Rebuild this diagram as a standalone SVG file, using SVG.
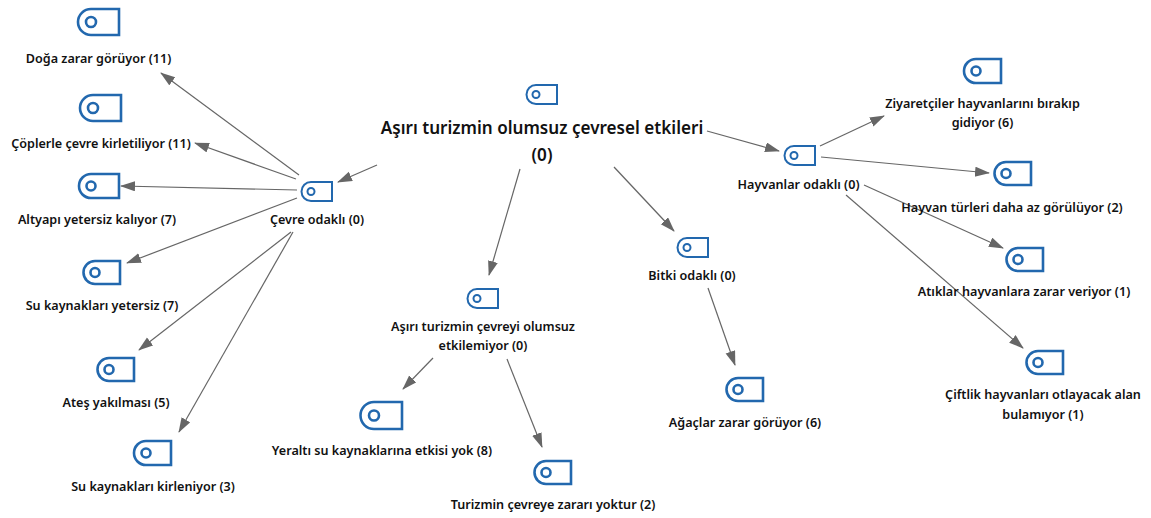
<svg xmlns="http://www.w3.org/2000/svg" width="1151" height="518" viewBox="0 0 1151 518">
<style>
text{font-family:"Noto Sans","Open Sans","Liberation Sans",sans-serif;font-weight:600;font-size:12.6px;fill:#111;text-anchor:middle}
.big{font-size:17.1px}
.c line{stroke:#666;stroke-width:1.2;marker-end:url(#a)}
.i path{fill:#fff;stroke:#2268ae;stroke-width:2.6}
.i circle{fill:#fff;stroke:#2268ae;stroke-width:2.6}
.s path,.s circle{stroke-width:2}
</style>
<defs>
<marker id="a" markerUnits="userSpaceOnUse" markerWidth="16" markerHeight="12" refX="14" refY="5" orient="auto"><path d="M0 0L15 5L0 10z" fill="#666"/></marker>
</defs>
<rect width="1151" height="518" fill="#fff"/>
<g id="connectors" class="c">
<line x1="377" y1="165" x2="338" y2="182"/>
<line x1="299" y1="175" x2="161" y2="73"/>
<line x1="296" y1="179" x2="195" y2="143"/>
<line x1="297" y1="190" x2="121" y2="186"/>
<line x1="297" y1="198" x2="127" y2="263"/>
<line x1="291" y1="232" x2="139" y2="350"/>
<line x1="293" y1="232" x2="179" y2="432"/>
<line x1="520" y1="169" x2="489" y2="275"/>
<line x1="614" y1="167" x2="674" y2="231"/>
<line x1="707" y1="131" x2="779" y2="151"/>
<line x1="820" y1="146" x2="884" y2="116"/>
<line x1="821" y1="157" x2="989" y2="173"/>
<line x1="864" y1="185" x2="1003" y2="248"/>
<line x1="846" y1="195" x2="1023" y2="348"/>
<line x1="433" y1="358" x2="403" y2="389"/>
<line x1="507" y1="359" x2="542" y2="447"/>
<line x1="708" y1="288" x2="735" y2="365"/>
</g>
<g id="n1"><g class="i" transform="translate(78 8)"><path d="M13 1H41V27H13A13 13 0 0 1 13 1Z"/><circle cx="13" cy="14" r="5"/></g><text x="98.500" y="63">Doğa zarar görüyor (11)</text></g>
<g id="n2"><g class="i" transform="translate(80 94)"><path d="M13 1H41V27H13A13 13 0 0 1 13 1Z"/><circle cx="13" cy="14" r="5"/></g><text x="101" y="148">Çöplerle çevre kirletiliyor (11)</text></g>
<g id="n3"><g class="i" transform="translate(79 173)"><path d="M12 1H40V25H12A12 12 0 0 1 12 1Z"/><circle cx="12" cy="13" r="4.5"/></g><text x="97" y="224">Altyapı yetersiz kalıyor (7)</text></g>
<g id="n4"><g class="i" transform="translate(83 260)"><path d="M12 1H37V24H12A11.5 11.5 0 0 1 12 1Z"/><circle cx="12" cy="12.5" r="4.5"/></g><text x="102" y="310">Su kaynakları yetersiz (7)</text></g>
<g id="n5"><g class="i" transform="translate(97 357)"><path d="M12 1H37V24H12A11.5 11.5 0 0 1 12 1Z"/><circle cx="12" cy="12.5" r="4.5"/></g><text x="116" y="407">Ateş yakılması (5)</text></g>
<g id="n6"><g class="i" transform="translate(134 440)"><path d="M12 1H37V25H12A12 12 0 0 1 12 1Z"/><circle cx="12" cy="13" r="4.5"/></g><text x="153" y="491">Su kaynakları kirleniyor (3)</text></g>
<g id="n7"><g class="i s" transform="translate(301 181)"><path d="M10 1H31V20H10A9.500 9.500 0 0 1 10 1Z"/><circle cx="10" cy="10.500" r="3.500"/></g><text x="317" y="224">Çevre odaklı (0)</text></g>
<g id="n8"><g class="i s" transform="translate(526 84)"><path d="M10 1H31V20H10A9.500 9.500 0 0 1 10 1Z"/><circle cx="10" cy="10.500" r="3.500"/></g><text class="big" x="542" y="134">Aşırı turizmin olumsuz çevresel etkileri</text><text class="big" x="542" y="161">(0)</text></g>
<g id="n9"><g class="i s" transform="translate(467 288)"><path d="M10 1H31V20H10A9.500 9.500 0 0 1 10 1Z"/><circle cx="10" cy="10.500" r="3.500"/></g><text x="483" y="331">Aşırı turizmin çevreyi olumsuz</text><text x="483" y="350">etkilemiyor (0)</text></g>
<g id="n10"><g class="i" transform="translate(360 401)"><path d="M14 1H42V28H14A13.500 13.500 0 0 1 14 1Z"/><circle cx="14" cy="14.500" r="5"/></g><text x="382" y="455">Yeraltı su kaynaklarına etkisi yok (8)</text></g>
<g id="n11"><g class="i" transform="translate(534 460)"><path d="M12 1H37V24H12A11.5 11.5 0 0 1 12 1Z"/><circle cx="12" cy="12.5" r="4.5"/></g><text x="553" y="509">Turizmin çevreye zararı yoktur (2)</text></g>
<g id="n12"><g class="i s" transform="translate(677 237)"><path d="M10 1H31V20H10A9.500 9.500 0 0 1 10 1Z"/><circle cx="10" cy="10.500" r="3.500"/></g><text x="692" y="280">Bitki odaklı (0)</text></g>
<g id="n13"><g class="i" transform="translate(726 377)"><path d="M12 1H37V24H12A11.5 11.5 0 0 1 12 1Z"/><circle cx="12" cy="12.5" r="4.5"/></g><text x="745" y="427">Ağaçlar zarar görüyor (6)</text></g>
<g id="n14"><g class="i s" transform="translate(784 145)"><path d="M10 1H31V20H10A9.500 9.500 0 0 1 10 1Z"/><circle cx="10" cy="10.500" r="3.500"/></g><text x="798.500" y="189">Hayvanlar odaklı (0)</text></g>
<g id="n15"><g class="i" transform="translate(964 58)"><path d="M12 1H37V25H12A12 12 0 0 1 12 1Z"/><circle cx="12" cy="13" r="4.500"/></g><text x="982.500" y="108">Ziyaretçiler hayvanlarını bırakıp</text><text x="982.500" y="127">gidiyor (6)</text></g>
<g id="n16"><g class="i" transform="translate(994 161)"><path d="M12 1H37V24H12A11.5 11.5 0 0 1 12 1Z"/><circle cx="12" cy="12.5" r="4.5"/></g><text x="1012" y="212">Hayvan türleri daha az görülüyor (2)</text></g>
<g id="n17"><g class="i" transform="translate(1006 247)"><path d="M12 1H37V24H12A11.5 11.5 0 0 1 12 1Z"/><circle cx="12" cy="12.5" r="4.5"/></g><text x="1024" y="296">Atıklar hayvanlara zarar veriyor (1)</text></g>
<g id="n18"><g class="i" transform="translate(1026 350)"><path d="M12 1H37V24H12A11.5 11.5 0 0 1 12 1Z"/><circle cx="12" cy="12.5" r="4.5"/></g><text x="1043" y="399">Çiftlik hayvanları otlayacak alan</text><text x="1043" y="419">bulamıyor (1)</text></g>
</svg>
